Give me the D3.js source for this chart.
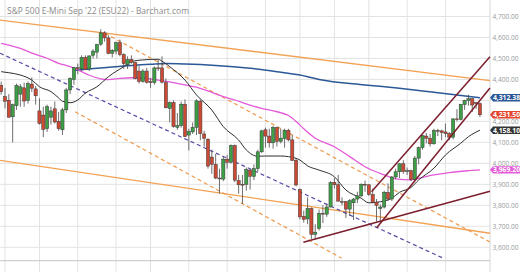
<!DOCTYPE html>
<html>
<head>
<meta charset="utf-8">
<script src="https://cdn.jsdelivr.net/npm/d3@7"></script>
<style>
  html, body { margin: 0; padding: 0; background: #fff; }
  svg { display: block; font-family: "Open Sans", Roboto, "DejaVu Sans", sans-serif; }
</style>
</head>
<body>
<svg id="chart" width="520" height="272"></svg>
<script>
// ESU22 daily bars, 2022
const dates = [
  "02-18","02-22","02-23","02-24","02-25","02-28",
  "03-01","03-02","03-03","03-04","03-07","03-08","03-09","03-10","03-11","03-14","03-15","03-16","03-17","03-18","03-21","03-22","03-23","03-24","03-25","03-28","03-29","03-30","03-31",
  "04-01","04-04","04-05","04-06","04-07","04-08","04-11","04-12","04-13","04-14","04-18","04-19","04-20","04-21","04-22","04-25","04-26","04-27","04-28","04-29",
  "05-02","05-03","05-04","05-05","05-06","05-09","05-10","05-11","05-12","05-13","05-16","05-17","05-18","05-19","05-20","05-23","05-24","05-25","05-26","05-27","05-31",
  "06-01","06-02","06-03","06-06","06-07","06-08","06-09","06-10","06-13","06-14","06-15","06-16","06-17","06-21","06-22","06-23","06-24","06-27","06-28","06-29","06-30",
  "07-01","07-05","07-06","07-07","07-08","07-11","07-12","07-13","07-14","07-15","07-18","07-19","07-20","07-21","07-22","07-25","07-26","07-27","07-28","07-29",
  "08-01","08-02","08-03","08-04","08-05","08-08","08-09","08-10","08-11","08-12","08-15","08-16","08-17","08-18","08-19"
];
const open = [
  4372,4318,4300,4222,4275,4330,
  4360,4300,4378,4355,4250,4230,4165,4220,4260,4200,4160,4255,4350,4400,4456,4450,4505,4450,4515,4530,4568,4622,4598,
  4525,4535,4575,4518,4470,4495,4480,4440,4390,4440,4390,4385,4455,4455,4385,4262,4290,4172,4180,4282,
  4135,4150,4172,4295,4140,4115,4030,3995,3930,3925,4020,4005,4085,3918,3900,3900,3968,3938,3975,4055,4160,
  4130,4098,4170,4105,4118,4158,4112,4015,3875,3748,3735,3785,3662,3690,3762,3758,3792,3910,3898,3818,3818,
  3782,3812,3830,3845,3900,3898,3852,3815,3785,3792,3862,3830,3935,3960,3998,3962,3965,3922,4025,4075,
  4130,4120,4093,4157,4155,4150,4142,4125,4212,4210,4280,4300,4308,4290,4285
];
const high = [
  4390,4360,4330,4285,4380,4378,
  4385,4390,4410,4368,4310,4270,4280,4270,4295,4245,4265,4360,4410,4460,4475,4515,4515,4515,4545,4570,4639,4630,4610,
  4545,4580,4590,4525,4510,4515,4485,4465,4450,4455,4405,4462,4495,4510,4405,4295,4300,4240,4295,4305,
  4165,4195,4305,4305,4155,4120,4065,4045,3975,4035,4040,4090,4090,3945,3945,3980,3975,3995,4065,4160,4170,
  4165,4178,4175,4165,4165,4165,4135,4025,3880,3775,3838,3790,3710,3780,3800,3808,3915,3930,3945,3838,3820,
  3830,3835,3865,3905,3918,3900,3880,3830,3805,3870,3905,3940,3975,4000,4015,3980,3970,4035,4080,4135,
  4145,4140,4165,4165,4160,4190,4150,4215,4258,4283,4303,4327,4310,4292,4290
];
const low = [
  4327,4262,4218,4100,4255,4270,
  4270,4285,4340,4280,4185,4125,4150,4185,4190,4155,4135,4240,4330,4375,4425,4440,4445,4440,4500,4500,4560,4580,4520,
  4505,4520,4510,4450,4450,4475,4400,4380,4385,4380,4360,4375,4440,4380,4262,4195,4170,4160,4170,4125,
  4062,4140,4135,4110,4080,3975,3950,3925,3856,3915,3975,4000,3910,3855,3807,3870,3875,3920,3960,4050,4075,
  4075,4070,4080,4095,4075,4105,4010,3890,3733,3718,3710,3640,3639,3680,3715,3745,3790,3880,3818,3800,3740,
  3750,3730,3810,3840,3865,3845,3810,3723,3722,3785,3820,3820,3925,3930,3950,3945,3915,3915,3995,4065,
  4095,4080,4090,4130,4110,4125,4110,4115,4200,4205,4255,4275,4245,4260,4220
];
const close = [
  4342,4296,4220,4280,4372,4365,
  4297,4380,4358,4322,4190,4162,4270,4250,4197,4165,4255,4350,4405,4456,4452,4505,4448,4512,4535,4566,4622,4598,4524,
  4538,4575,4518,4475,4494,4482,4405,4390,4440,4386,4385,4455,4452,4387,4265,4290,4175,4180,4282,4128,
  4152,4172,4298,4142,4120,3987,3996,3930,3926,4020,4005,4085,3920,3898,3898,3970,3938,3975,4055,4155,4130,
  4098,4172,4105,4120,4158,4112,4015,3897,3745,3733,3785,3662,3672,3762,3758,3792,3908,3898,3820,3816,3782,
  3822,3830,3845,3900,3898,3852,3815,3800,3792,3862,3830,3935,3960,3998,3962,3965,3922,4025,4075,4132,
  4120,4093,4157,4155,4147,4142,4125,4212,4210,4282,4300,4308,4278,4285,4231.50
];

// moving averages: [bar index, value]
const sma20 = [[0,4437],[2,4432],[5,4421],[8,4397],[10,4365],[13,4342],[15,4312],[16,4296],[18,4289],[20,4302],[22,4335],[25,4365],[28,4413],[32,4461],[34,4485],[37,4493],[41,4496],[42,4487],[44,4461],[48,4397],[51,4326],[55,4254],[58,4175],[62,4111],[64,4064],[67,4034],[69,4035],[73,4035],[75,4032],[78,4016],[80,3988],[83,3968],[87,3936],[90,3873],[94,3834],[96,3812],[99,3817],[102,3834],[104,3862],[107,3885],[109,3921],[113,3977],[116,4040],[120,4096],[122,4127],[125,4158.10]];
const sma50 = [[0,4572],[2,4564],[5,4548],[8,4525],[12,4501],[15,4477],[18,4461],[21,4437],[23,4420],[26,4403],[28,4399],[31,4405],[34,4408],[38,4405],[41,4397],[44,4388],[48,4374],[51,4363],[54,4345],[58,4318],[61,4302],[65,4278],[68,4262],[72,4246],[75,4228],[77,4200],[79,4165],[82,4120],[87,4079],[91,4032],[95,3984],[100,3945],[103,3926],[107,3921],[109,3929],[113,3945],[117,3956],[122,3965],[125,3969.20]];
const sma200 = [[19,4443],[22,4448],[30,4461],[39,4472],[43,4476],[48,4474],[56,4467],[65,4453],[72,4437],[78,4421],[83,4400],[95,4374],[104,4358],[113,4339],[119,4326],[125,4312.38]];

// drawn trendlines: [bar index, price] endpoints
const orangeSolid = [[[-0.305,4683],[127.63,4394]], [[-0.305,4014],[127.63,3667]]];
const orangeDashed = [[[27.1,4620],[127.63,3625]], [[19.3,4246],[88.9,3548]]];
const purpleDashed = [[[-0.305,4525],[115.4,3548]]];
const maroonLines = [[[78.9,3624],[127.63,3867]], [[96.7,3865],[127.63,4508]], [[98.05,3693],[127.63,4359]]];

const priceTicks = [3600,3700,3800,3900,4000,4100,4200,4300,4400,4500,4600,4700];
const gridDates = ["02-22","03-07","03-21","04-04","04-18","05-02","05-16","05-31","06-13","06-27","07-11","07-25","08-08"];
const lastValues = [4312.38, 4231.50, 4158.10, 3969.20];
const lastColors = ["#2b5896", "#e4472f", "#343434", "#e45ad9"];
const title = "S&P 500 E-Mini Sep '22 (ESU22) - Barchart.com";

const svg = d3.select("#chart");
const W = 520, H = 272, plotR = 490, plotB = 260.7;

const x = d3.scaleLinear().domain([-0.305, 127.63]).range([0, plotR]);
const y = d3.scaleLinear().domain([3536.1, 4778.6]).range([plotB, 0]);
const fmt = d3.format(",.2f");

// grid
const grid = svg.append("g");
grid.selectAll("line.h").data(priceTicks).join("line")
  .attr("x1", 0).attr("x2", plotR)
  .attr("y1", d => y(d)).attr("y2", d => y(d))
  .attr("stroke", "#e3e3e3").attr("stroke-width", 1);
grid.selectAll("line.v").data(gridDates).join("line")
  .attr("x1", d => x(dates.indexOf(d))).attr("x2", d => x(dates.indexOf(d)))
  .attr("y1", 0).attr("y2", H)
  .attr("stroke", "#e3e3e3").attr("stroke-width", 1);
svg.append("line").attr("x1", 0).attr("x2", plotR).attr("y1", plotB).attr("y2", plotB)
  .attr("stroke", "#c4c4c4").attr("stroke-width", 1);
svg.append("line").attr("x1", plotR).attr("x2", plotR).attr("y1", 0).attr("y2", H)
  .attr("stroke", "#d6d6d6").attr("stroke-width", 1);

// title
svg.append("text").attr("x", 7).attr("y", 13.5)
  .attr("font-size", 9.5).attr("fill", "#8a8a8a")
  .attr("textLength", 182).attr("lengthAdjust", "spacingAndGlyphs")
  .text(title);

const plot = svg.append("g");
const seg = d3.line().x(d => x(d[0])).y(d => y(d[1]));

// trendlines behind the candles
function drawLines(set, color, width, dash) {
  plot.append("g").selectAll("path").data(set).join("path")
    .attr("d", seg).attr("fill", "none")
    .attr("stroke", color).attr("stroke-width", width)
    .attr("stroke-dasharray", dash || null);
}
drawLines(orangeSolid, "#f2a254", 1.3);
drawLines(orangeDashed, "#ee9a4c", 1.2, "4,3");
drawLines(purpleDashed, "#5a47a6", 1.2, "4,3");

// moving averages
const ma = d3.line().x(d => x(d[0])).y(d => y(d[1])).curve(d3.curveMonotoneX);
plot.append("path").attr("d", ma(sma200)).attr("fill", "none").attr("stroke", "#2b5896").attr("stroke-width", 1.5);
plot.append("path").attr("d", ma(sma50)).attr("fill", "none").attr("stroke", "#e45ad9").attr("stroke-width", 1.3);
plot.append("path").attr("d", ma(sma20)).attr("fill", "none").attr("stroke", "#2e2e2e").attr("stroke-width", 1);

// candles
const bars = d3.range(dates.length);
const cg = plot.append("g");
cg.selectAll("line").data(bars).join("line")
  .attr("x1", i => x(i)).attr("x2", i => x(i))
  .attr("y1", i => y(high[i])).attr("y2", i => y(low[i]))
  .attr("stroke", "#4a4a4a").attr("stroke-width", 0.8);
cg.selectAll("rect").data(bars).join("rect")
  .attr("x", i => x(i) - 1.6).attr("width", 3.2)
  .attr("y", i => y(Math.max(open[i], close[i])))
  .attr("height", i => Math.max(0.8, Math.abs(y(open[i]) - y(close[i]))))
  .attr("fill", i => close[i] >= open[i] ? "#3c9f45" : "#cc4a33")
  .attr("stroke", "#3a3a3a").attr("stroke-width", 0.5);

// drawn trendlines over the candles
drawLines(maroonLines, "#7c1e2e", 1.5);

// right price axis; a label hidden under a last-value tag is left out
const tagGap = 6;
const axisTicks = priceTicks.filter(t => lastValues.every(v => Math.abs(y(t) - y(v)) > tagGap));
const axis = svg.append("g").attr("transform", `translate(${plotR},0)`)
  .call(d3.axisRight(y).tickValues(axisTicks).tickFormat(fmt).tickSize(0).tickPadding(2.5));
axis.select(".domain").remove();
axis.selectAll("text").attr("fill", "#9a9a9a").attr("font-size", 6.6)
  .attr("font-family", "\"Open Sans\", Roboto, sans-serif")
  .attr("textLength", 26).attr("lengthAdjust", "spacingAndGlyphs");

// last value tags
const tags = svg.append("g");
const half = 3.7;
lastValues.forEach((v, k) => {
  const yc = y(v);
  tags.append("path")
    .attr("d", `M${plotR},${yc} L${plotR + 3},${yc - half} L${W},${yc - half} L${W},${yc + half} L${plotR + 3},${yc + half} Z`)
    .attr("fill", lastColors[k]);
  tags.append("text").attr("x", 506.5).attr("y", yc).attr("dy", "0.35em")
    .attr("text-anchor", "middle").attr("font-size", 6.8).attr("font-weight", "bold")
    .attr("fill", "#fff").text(fmt(v));
});
</script>
</body>
</html>
